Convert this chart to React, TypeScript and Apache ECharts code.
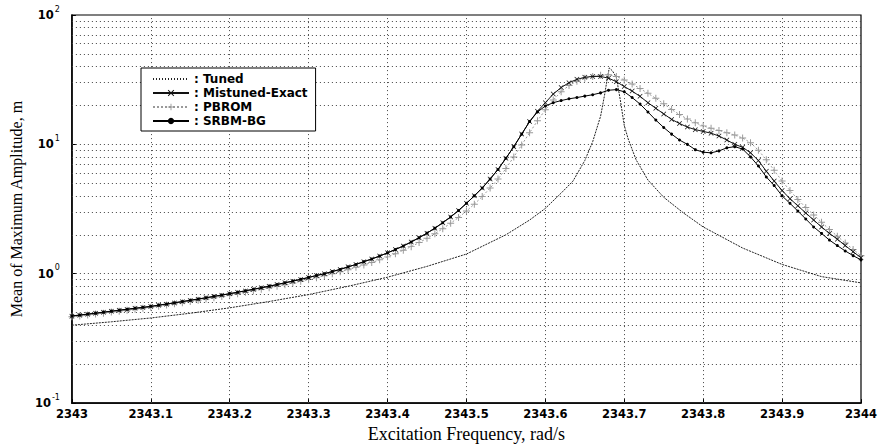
import React, { useEffect, useRef } from "react";
import * as echarts from "echarts";

// Excitation frequency grid (rad/s) for the marked series
const freqs: number[] = Array.from({ length: 101 }, (_, i) => +(2343 + i * 0.01).toFixed(2));

const mistunedExact: number[] = [
  0.47, 0.478, 0.486, 0.494, 0.503, 0.512, 0.521, 0.53, 0.54, 0.548,
  0.558, 0.57, 0.582, 0.595, 0.608, 0.622, 0.636, 0.651, 0.667, 0.683,
  0.70, 0.718, 0.737, 0.757, 0.778, 0.80, 0.824, 0.85, 0.876, 0.904,
  0.935, 0.968, 1.0, 1.04, 1.08, 1.13, 1.18, 1.24, 1.3, 1.37,
  1.45, 1.54, 1.64, 1.76, 1.9, 2.06, 2.25, 2.48, 2.75, 3.08,
  3.5, 4.0, 4.6, 5.4, 6.4, 7.8, 9.6, 12, 15, 18,
  21, 24.5, 27.5, 30, 31.8, 33, 33.5, 33.5, 32.5, 30.5,
  28, 25.8, 23.5, 21, 19, 17.2, 15.6, 14.5, 13.6, 13,
  12.6, 12.2, 11.6, 10.8, 10.0, 9.5, 8.6, 7.5, 6.2, 5.2,
  4.4, 3.8, 3.35, 2.95, 2.6, 2.3, 2.05, 1.85, 1.65, 1.48,
  1.33,
];

const pbrom: number[] = [
  0.465, 0.472, 0.48, 0.488, 0.496, 0.505, 0.514, 0.523, 0.532, 0.541,
  0.55, 0.561, 0.573, 0.585, 0.597, 0.61, 0.624, 0.638, 0.653, 0.668,
  0.684, 0.70, 0.718, 0.737, 0.757, 0.778, 0.80, 0.823, 0.848, 0.874,
  0.902, 0.932, 0.964, 0.998, 1.035, 1.075, 1.12, 1.17, 1.22, 1.28,
  1.35, 1.43, 1.52, 1.62, 1.74, 1.88, 2.04, 2.23, 2.46, 2.72,
  3.05, 3.45, 3.95, 4.6, 5.4, 6.5, 8, 9.9, 12.3, 15.2,
  18.5, 22, 25.5, 28.5, 30.8, 32.5, 33.5, 34.2, 34.5, 33.5,
  31.5, 29.3, 27, 24.8, 22.7, 20.6, 18.6, 17, 15.7, 14.7,
  13.9, 13.3, 12.8, 12.3, 11.8, 11.2, 10.3, 9.0, 7.6, 6.3,
  5.2, 4.4, 3.75, 3.25, 2.85, 2.5, 2.2, 1.95, 1.73, 1.54,
  1.38,
];

const srbmBg: number[] = [
  0.472, 0.48, 0.488, 0.496, 0.505, 0.514, 0.523, 0.532, 0.541, 0.55,
  0.56, 0.572, 0.584, 0.597, 0.61, 0.624, 0.638, 0.653, 0.669, 0.685,
  0.702, 0.72, 0.739, 0.759, 0.78, 0.802, 0.826, 0.852, 0.878, 0.906,
  0.937, 0.97, 1.0, 1.04, 1.08, 1.13, 1.18, 1.24, 1.3, 1.37,
  1.45, 1.54, 1.64, 1.76, 1.9, 2.06, 2.25, 2.48, 2.75, 3.08,
  3.5, 4.0, 4.6, 5.4, 6.4, 7.8, 9.6, 12, 15, 17.8,
  19.8, 21, 21.8, 22.5, 23, 23.6, 24.2, 25, 26.2, 26.5,
  25.5, 23, 20.5, 17.8, 15.4, 13.5, 12, 10.8, 10, 9.1,
  8.7, 8.6, 8.9, 9.4, 9.6, 9.2, 8.0, 6.8, 5.6, 4.8,
  4.0, 3.5, 3.05, 2.65, 2.3, 2.05, 1.82, 1.65, 1.5, 1.38,
  1.28,
];

// Tuned system response (unmarked line)
const tunedFreq: number[] = [
  2343.0, 2343.05, 2343.1, 2343.15, 2343.2, 2343.25, 2343.3, 2343.35, 2343.4, 2343.45,
  2343.5, 2343.55, 2343.58, 2343.6, 2343.62, 2343.635, 2343.65, 2343.66, 2343.67, 2343.675,
  2343.678, 2343.681, 2343.685, 2343.69, 2343.695, 2343.7, 2343.705, 2343.715, 2343.73, 2343.75,
  2343.775, 2343.8, 2343.85, 2343.9, 2343.95, 2344.0,
];
const tunedAmp: number[] = [
  0.40, 0.425, 0.455, 0.495, 0.545, 0.61, 0.69, 0.80, 0.94, 1.14,
  1.42, 2.0, 2.6, 3.2, 4.2, 5.2, 7.5, 10.5, 16.5, 24,
  31, 39, 37, 33, 22, 14, 11, 7.6, 5.3, 3.9,
  2.95, 2.3, 1.58, 1.18, 0.95, 0.85,
];

// grid line positions
const xGridValues: number[] = [2343.1, 2343.2, 2343.3, 2343.4, 2343.5, 2343.6, 2343.7, 2343.8, 2343.9];
const yGridValues: number[] = [
  0.2, 0.3, 0.4, 0.5, 0.6, 0.7, 0.8, 0.9, 1,
  2, 3, 4, 5, 6, 7, 8, 9, 10,
  20, 30, 40, 50, 60, 70, 80, 90,
];

const seriesNames = ["Tuned", "Mistuned-Exact", "PBROM", "SRBM-BG"];

const X_MARK = "path://M1,0L5,4L9,0L10,1L6,5L10,9L9,10L5,6L1,10L0,9L4,5L0,1Z";
const PLUS_MARK = "path://M4.3,0H5.7V4.3H10V5.7H5.7V10H4.3V5.7H0V4.3H4.3Z";

export default function App() {
  const ref = useRef<HTMLDivElement>(null);

  useEffect(() => {
    if (!ref.current) return;
    const chart = echarts.init(ref.current, null, { renderer: "svg" });
    const gridDot = { color: "#444", width: 1, type: [1, 3] as number[] };

    chart.setOption({
      animation: false,
      backgroundColor: "#fff",
      grid: {
        left: 71,
        right: 19,
        top: 15,
        bottom: 38,
        show: true,
        borderColor: "#000",
        borderWidth: 1.2,
      },
      legend: {
        data: [
          { name: "Tuned", itemStyle: { opacity: 0 }, lineStyle: { type: [1, 2], color: "#222" } },
          { name: "Mistuned-Exact" },
          { name: "PBROM" },
          { name: "SRBM-BG" },
        ],
        orient: "vertical",
        left: 141,
        top: 68,
        padding: [5, 8, 4, 11],
        backgroundColor: "#fff",
        borderColor: "#000",
        borderWidth: 1,
        itemWidth: 36,
        itemHeight: 8,
        itemGap: 2,
        formatter: (n: string) => ": " + n,
        textStyle: {
          fontFamily: "DejaVu Sans",
          fontWeight: "bold",
          fontSize: 12,
          lineHeight: 10,
          color: "#000",
        },
      },
      xAxis: {
        type: "value",
        min: 2343,
        max: 2344,
        interval: 0.1,
        name: "Excitation Frequency, rad/s",
        nameLocation: "middle",
        nameGap: 14,
        nameTextStyle: {
          fontFamily: "Liberation Serif",
          fontSize: 18,
          color: "#000",
          verticalAlign: "top",
        },
        axisLine: { show: true, lineStyle: { color: "#000", width: 1.5 } },
        axisTick: { show: true, inside: true, length: 4, lineStyle: { color: "#000" } },
        axisLabel: {
          margin: 5,
          fontFamily: "DejaVu Sans",
          fontWeight: "bold",
          fontSize: 11.5,
          color: "#000",
          formatter: (v: number) => {
            const r = Math.round(v * 10) / 10;
            return Math.abs(r - Math.round(r)) < 1e-9 ? String(Math.round(r)) : r.toFixed(1);
          },
        },
        splitLine: { show: false },
      },
      yAxis: {
        type: "log",
        logBase: 10,
        min: 0.1,
        max: 100,
        name: "Mean of Maximum Amplitude, m",
        nameLocation: "middle",
        nameGap: 37,
        nameTextStyle: {
          fontFamily: "Liberation Serif",
          fontSize: 16,
          color: "#000",
        },
        axisLine: { show: true, lineStyle: { color: "#000", width: 1.5 } },
        axisTick: { show: true, inside: true, length: 4, lineStyle: { color: "#000" } },
        axisLabel: {
          margin: 12,
          formatter: (v: number) => {
            const e = Math.round(Math.log10(v));
            return "{a|10}{b|" + (e < 0 ? "-" + Math.abs(e) : String(e)) + "}";
          },
          rich: {
            a: { fontFamily: "DejaVu Sans", fontWeight: "bold", fontSize: 11.5, color: "#000" },
            b: {
              fontFamily: "DejaVu Sans",
              fontSize: 8,
              color: "#000",
              padding: [0, 0, 12, 1],
            },
          },
        },
        splitLine: { show: false },
      },
      series: [
        {
          name: "Tuned",
          type: "line",
          data: tunedFreq.map((f, i) => [f, tunedAmp[i]]),
          showSymbol: false,
          symbol: "circle",
          symbolSize: 2,
          lineStyle: { color: "#222", width: 1, type: [2, 1] },
          itemStyle: { color: "#222" },
          z: 3,
          markLine: {
            silent: true,
            symbol: "none",
            label: { show: false },
            lineStyle: gridDot,
            data: [
              ...xGridValues.map((v) => ({ xAxis: v })),
              ...yGridValues.map((v) => ({ yAxis: v })),
            ],
            z: 1,
          },
        },
        {
          name: "Mistuned-Exact",
          type: "line",
          data: freqs.map((f, i) => [f, mistunedExact[i]]),
          symbol: X_MARK,
          symbolSize: 5,
          lineStyle: { color: "#111", width: 1 },
          itemStyle: { color: "#111" },
          z: 4,
        },
        {
          name: "PBROM",
          type: "line",
          data: freqs.map((f, i) => [f, pbrom[i]]),
          symbol: PLUS_MARK,
          symbolSize: 7,
          lineStyle: { color: "#999", width: 1, type: [2, 2] },
          itemStyle: { color: "#999" },
          z: 3,
        },
        {
          name: "SRBM-BG",
          type: "line",
          data: freqs.map((f, i) => [f, srbmBg[i]]),
          symbol: "circle",
          symbolSize: 3,
          lineStyle: { color: "#000", width: 1 },
          itemStyle: { color: "#000" },
          z: 5,
        },
      ],
    });
    return () => chart.dispose();
  }, []);

  return (
    <div
      ref={ref}
      style={{ position: "fixed", left: 0, top: 0, width: 880, height: 448, background: "#fff" }}
    />
  );
}
